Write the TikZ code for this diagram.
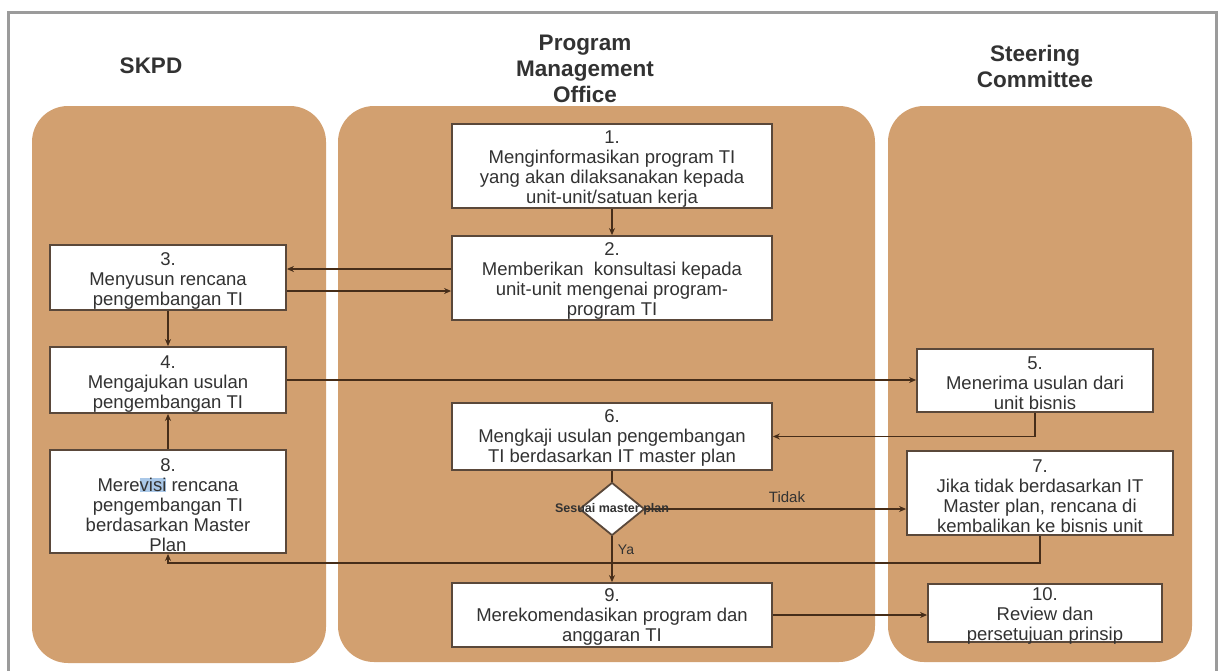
\documentclass[tikz,border=0pt]{standalone}
\usepackage{fontspec}
\setmainfont{Liberation Sans}
\usetikzlibrary{arrows.meta,shapes.geometric}
\definecolor{lane}{RGB}{210,160,112}
\definecolor{edgecol}{RGB}{90,72,58}
\definecolor{conncol}{RGB}{70,45,25}
\definecolor{txtcol}{RGB}{50,50,50}
\definecolor{framecol}{RGB}{155,155,155}
\definecolor{hlblue}{RGB}{170,200,232}
\begin{document}
\begin{tikzpicture}[x=1pt,y=-1pt,
  lanebox/.style={fill=lane, draw=none, rounded corners=36pt},
  stepbox/.style={draw=edgecol, line width=1.8pt, fill=white, inner sep=0pt},
  boxtext/.style={align=center, font=\fontsize{18.5}{20}\selectfont, text=txtcol, inner sep=0pt},
  header/.style={align=center, font=\fontsize{22.5}{26}\selectfont\bfseries, text=txtcol},
  conn/.style={draw=conncol, line width=1.4pt, -{Stealth[length=7pt,width=6pt]}},
  plainconn/.style={draw=conncol, line width=1.4pt},
  lbl/.style={text=txtcol, inner sep=0pt}]
\useasboundingbox (0,0) rectangle (1221,670);
% frame
\draw[framecol, line width=3pt] (8,672) -- (8,12) -- (1216,12) -- (1216,672);
% lanes
\fill[lanebox] (32,106) rectangle (326,663);
\fill[lanebox] (338,106) rectangle (875,662);
\fill[lanebox] (888,106) rectangle (1192,662);
% headers
\node[header] (h1) at (151,66) {SKPD};
\node[header] (h2) at (585,69) {Program\\Management\\Office};
\node[header] (h3) at (1035,66) {Steering\\Committee};
% boxes
\node[stepbox, minimum width=320pt, minimum height=84pt] (b1) at (612,166) {};
\node[stepbox, minimum width=320pt, minimum height=84pt] (b2) at (612,278) {};
\node[stepbox, minimum width=236pt, minimum height=65pt] (b3) at (168,277.5) {};
\node[stepbox, minimum width=236pt, minimum height=66pt] (b4) at (168,380) {};
\node[stepbox, minimum width=236pt, minimum height=63pt] (b5) at (1035,380.5) {};
\node[stepbox, minimum width=320pt, minimum height=67pt] (b6) at (612,436.5) {};
\node[stepbox, minimum width=266pt, minimum height=84pt] (b7) at (1040,493) {};
\node[stepbox, minimum width=236pt, minimum height=103pt] (b8) at (168,501.5) {};
\node[stepbox, minimum width=320pt, minimum height=64pt] (b9) at (612,615) {};
\node[stepbox, minimum width=234pt, minimum height=58pt] (b10) at (1045,613) {};
\node[diamond, draw=edgecol, fill=white, line width=1.8pt, minimum width=65pt, minimum height=53pt, inner sep=0pt] (d) at (612,509) {};
% connectors
\coordinate (c78) at (168,563);
\draw[conn] (b1) -- (b2);
\draw[conn] ([yshift=9pt]b2.west) -- ([yshift=9pt]b2.west -| b3.east);
\draw[conn] ([yshift=-13.5pt]b3.east) -- ([yshift=-13.5pt]b3.east -| b2.west);
\draw[conn] (b3) -- (b4);
\draw[conn] (b8) -- (b4);
\draw[conn] (b4.east) -- (b4.east -| b5.west);
\draw[conn] (b5.south) |- (b6.east);
\draw[plainconn] (b6) -- (d);
\draw[conn] (d.east) -- (d.east -| b7.west);
\draw[conn] (d.south) -- (b9.north);
\draw[conn] (b7.south) |- (c78) -- (b8.south);
\draw[conn] (b9.east) -- (b9.east -| b10.west);
% texts
\node[boxtext] (t1) at ([yshift=-3pt]b1.center) {1.\\Menginformasikan program TI\\yang akan dilaksanakan kepada\\unit-unit/satuan kerja};
\node[boxtext] (t2) at ([yshift=-3pt]b2.center) {2.\\Memberikan\ \ konsultasi kepada\\unit-unit mengenai program-\\program TI};
\node[boxtext] (t3) at ([yshift=-3.5pt]b3.center) {3.\\Menyusun rencana\\pengembangan TI};
\node[boxtext] (t4) at ([yshift=-4pt]b4.center) {4.\\Mengajukan usulan\\pengembangan TI};
\node[boxtext] (t5) at ([yshift=-2.5pt]b5.center) {5.\\Menerima usulan dari\\unit bisnis};
\node[boxtext] (t6) at ([yshift=-1.5pt]b6.center) {6.\\Mengkaji usulan pengembangan\\TI berdasarkan IT master plan};
\node[boxtext] (t7) at ([yshift=-3pt]b7.center) {7.\\Jika tidak berdasarkan IT\\Master plan, rencana di\\kembalikan ke bisnis unit};
\node[boxtext] (t8) at ([yshift=-3.5pt]b8.center) {8.\\Mere{\setlength{\fboxsep}{0pt}\colorbox{hlblue}{visi}} rencana\\pengembangan TI\\berdasarkan Master\\Plan};
\node[boxtext] (t9) at ([yshift=-2pt]b9.center) {9.\\Merekomendasikan program dan\\anggaran TI};
\node[boxtext] (t10) at ([yshift=-3pt]b10.center) {10.\\Review dan\\persetujuan prinsip};
\node[lbl, font=\fontsize{12.5}{14}\selectfont\bfseries] (dl) at (612,509) {Sesuai master plan};
\node[lbl, font=\fontsize{15}{16}\selectfont] (tidak) at (787,497) {Tidak};
\node[lbl, font=\fontsize{14}{16}\selectfont] (ya) at (626,550) {Ya};
\end{tikzpicture}
\end{document}
